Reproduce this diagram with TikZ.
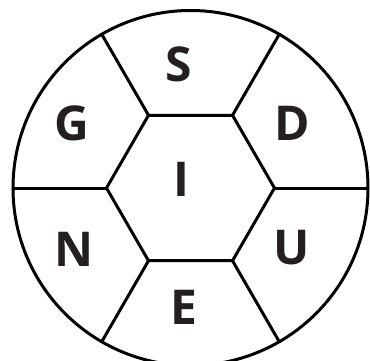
\documentclass[tikz,border=0pt]{standalone}
\usepackage{fontspec}
\setmainfont{Open Sans}
\definecolor{ink}{HTML}{231F20}
\begin{document}
\begin{tikzpicture}[x=1pt,y=-1pt,
  edge/.style={line width=3pt,line join=miter,black},
  letter/.style={font=\fontsize{48}{48}\selectfont\bfseries,text=ink,inner sep=0pt,anchor=center}]
\useasboundingbox (0,0) rectangle (370,361);
\coordinate (c) at (190.5,188);
\foreach \a [count=\i] in {0,60,120,180,240,300}{
  \coordinate (h\i) at ([shift={(c)}]\a:84);
  \coordinate (r\i) at ([shift={(c)}]\a:177.5);
}
\draw[edge] (c) circle[radius=177.5];
\draw[edge] (h1) -- (h2) -- (h3) -- (h4) -- (h5) -- (h6) -- cycle;
\foreach \i in {1,...,6}{ \draw[edge] (h\i) -- (r\i); }
\node[letter] (S) at (179,64) {S};
\node[letter] (G) at (72,123) {G};
\node[letter] (D) at (292.5,123) {D};
\node[letter] (I) at (181,179) {I};
\node[letter] (N) at (74,249) {N};
\node[letter] (U) at (292,248) {U};
\node[letter] (E) at (183.5,307) {E};
\end{tikzpicture}
\end{document}
